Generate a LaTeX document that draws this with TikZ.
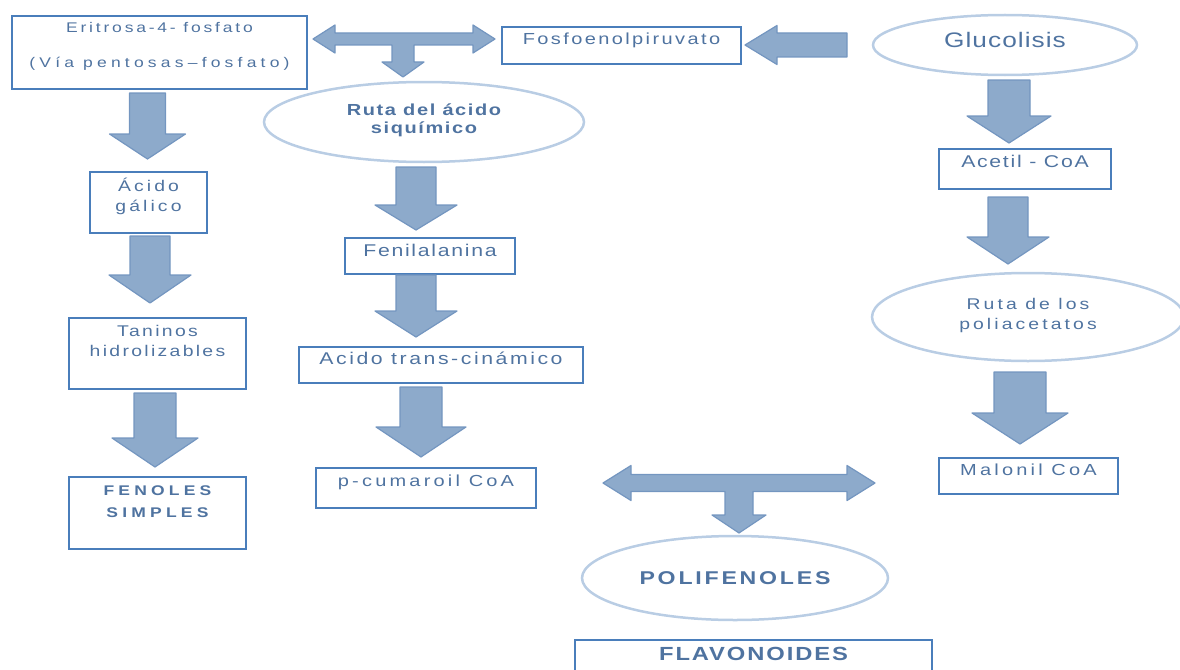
\documentclass[tikz,border=0pt]{standalone}
\usepackage{fontspec}
\setmainfont{Liberation Sans}[FakeStretch=1.25]
\newfontfamily\lsa{Liberation Sans}[FakeStretch=1.25,LetterSpace=5]
\newfontfamily\lsb{Liberation Sans}[FakeStretch=1.25,LetterSpace=10]
\newfontfamily\lsc{Liberation Sans}[FakeStretch=1.25,LetterSpace=15]
\newfontfamily\lsd{Liberation Sans}[FakeStretch=1.25,LetterSpace=20]
\newfontfamily\lse{Liberation Sans}[FakeStretch=1.25,LetterSpace=30]
\usetikzlibrary{shapes.geometric}

\definecolor{boxline}{RGB}{74,126,187}
\definecolor{txt}{RGB}{79,115,160}
\definecolor{arrfill}{RGB}{141,170,203}
\definecolor{arrline}{RGB}{116,150,192}
\definecolor{ellline}{RGB}{185,205,228}

\tikzset{
  box/.style={draw=boxline, line width=1.6pt, text=txt, inner sep=0pt, anchor=north, align=center},
  oval/.style={ellipse, draw=ellline, line width=2.5pt, text=txt, inner sep=0pt, align=center},
  blk/.style={fill=arrfill, draw=arrline, line width=1.2pt, line join=round},
}

% flecha ancha hacia abajo: x, arriba, punta, medio fuste, media cabeza, largo cabeza
\newcommand{\vblk}[6]{%
  \draw[blk] (#1-#4,#2) -- (#1+#4,#2) -- (#1+#4,#3-#6) -- (#1+#5,#3-#6) -- (#1,#3)
    -- (#1-#5,#3-#6) -- (#1-#4,#3-#6) -- cycle;}

\begin{document}
\begin{tikzpicture}[x=1pt, y=-1pt]
    \clip (0,0) rectangle (1180,669);

    % fila de arriba
    \node[box, minimum width=295pt, text height=52pt, text depth=21pt,
          font=\lsd\fontsize{14}{35}\selectfont] (eri) at (159.5,15)
          {Eritrosa-4- fosfato\\{\lse(Vía pentosas–fosfato)}};
    \node[box, minimum width=239pt, text height=18pt, text depth=19pt,
          font=\lsc\fontsize{16}{20}\selectfont] (fosfo) at (621.5,26) {Fosfoenolpiruvato};
    \node[oval, minimum width=264pt, minimum height=60pt, text height=10pt, text depth=4pt,
          font=\lsa\fontsize{21}{24}\selectfont] (gluc) at (1005,45) {Glucolisis};

    % T de arriba
    \draw[blk] (313,39) -- (335,25) -- (335,33) -- (473,33) -- (473,25) -- (495,39)
      -- (473,53) -- (473,45) -- (414,45) -- (414,62) -- (424,62) -- (403,77)
      -- (382,62) -- (392,62) -- (392,45) -- (335,45) -- (335,53) -- cycle;
    % Glucolisis hacia Fosfoenolpiruvato
    \draw[blk] (745,45) -- (777,25.5) -- (777,33) -- (847,33) -- (847,57) -- (777,57)
      -- (777,64.5) -- cycle;

    % columna izquierda
    \vblk{147.5}{93}{159}{18}{38}{25}
    \node[box, minimum width=117pt, text height=40pt, text depth=21pt,
          font=\lsd\fontsize{15.5}{20}\selectfont] (galico) at (148.5,171) {Ácido\\gálico};
    \vblk{150}{236}{303}{20}{41}{28}
    \node[box, minimum width=177pt, text height=39pt, text depth=32pt,
          font=\lsc\fontsize{15.5}{20}\selectfont] (taninos) at (157.5,317) {Taninos\\hidrolizables};
    \vblk{155}{393}{467}{21}{43}{29}
    \node[box, minimum width=177pt, text height=41pt, text depth=31pt,
          font=\lse\bfseries\fontsize{14}{22}\selectfont] (fenoles) at (157.5,476) {FENOLES\\SIMPLES};

    % columna del medio
    \node[oval, minimum width=320pt, minimum height=80pt, text height=28pt, text depth=6pt,
          font=\lsb\bfseries\fontsize{16}{18}\selectfont] (ruta) at (424,122) {Ruta del ácido\\siquímico};
    \vblk{416}{167}{230}{20}{41}{25}
    \node[box, minimum width=170pt, text height=19pt, text depth=17pt,
          font=\lsb\fontsize{17}{20}\selectfont] (fenil) at (430,237) {Fenilalanina};
    \vblk{416}{275}{337}{20}{41}{26}
    \node[box, minimum width=284pt, text height=18pt, text depth=18pt,
          font=\lsc\fontsize{17}{20}\selectfont] (cinam) at (441,346) {Acido trans-cinámico};
    \vblk{421}{387}{457}{21}{45}{30}
    \node[box, minimum width=220pt, text height=19pt, text depth=21pt,
          font=\lsd\fontsize{16}{20}\selectfont] (cumar) at (426,467) {p-cumaroil CoA};

    % columna derecha
    \vblk{1009}{80}{143}{21}{42}{27}
    \node[box, minimum width=172pt, text height=19pt, text depth=21pt,
          font=\lsb\fontsize{17}{20}\selectfont] (acetil) at (1025,148) {Acetil - CoA};
    \vblk{1008}{197}{264}{20}{41}{27}
    \node[oval, minimum width=312pt, minimum height=88pt, text height=30pt, text depth=6pt,
          font=\lsd\fontsize{15.5}{20}\selectfont] (poliac) at (1028,317) {Ruta de los\\poliacetatos};
    \vblk{1020}{372}{444}{26}{48}{31}
    \node[box, minimum width=179pt, text height=18pt, text depth=18pt,
          font=\lsd\fontsize{16}{20}\selectfont] (malonil) at (1028.5,457) {Malonil CoA};

    % T de abajo
    \draw[blk] (603,483) -- (631,465.5) -- (631,474.5) -- (847,474.5) -- (847,465.5)
      -- (875,483) -- (847,500.5) -- (847,491.5) -- (753,491.5) -- (753,515)
      -- (766,515) -- (739,533) -- (712,515) -- (725,515) -- (725,491.5)
      -- (631,491.5) -- (631,500.5) -- cycle;

    % resultado
    \node[oval, minimum width=306pt, minimum height=84pt, text height=14pt, text depth=2pt,
          font=\lsc\bfseries\fontsize{18.5}{22}\selectfont] (polif) at (735,578) {POLIFENOLES};
    \node[box, minimum width=357pt, text height=21pt, text depth=40pt,
          font=\lsb\bfseries\fontsize{19}{22}\selectfont] (flav) at (753.5,639) {FLAVONOIDES};
\end{tikzpicture}
\end{document}
